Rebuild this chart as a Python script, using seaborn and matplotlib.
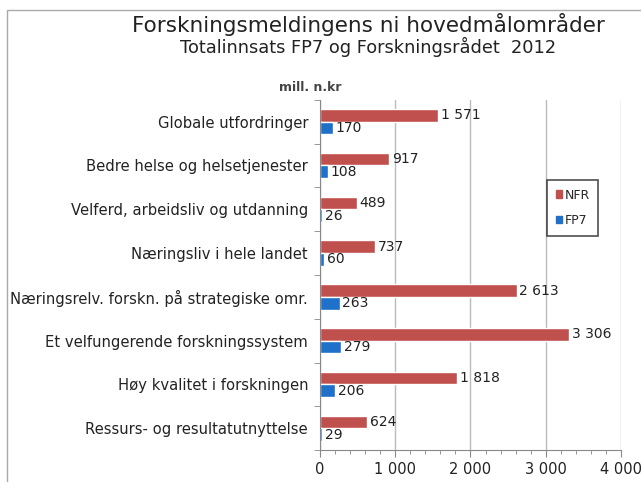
import matplotlib
matplotlib.use("Agg")
import matplotlib.pyplot as plt
import matplotlib.patches as mpatches
from matplotlib.ticker import MultipleLocator, FuncFormatter
import seaborn as sns
import pandas as pd

categories = [
    "Globale utfordringer",
    "Bedre helse og helsetjenester",
    "Velferd, arbeidsliv og utdanning",
    "Næringsliv i hele landet",
    "Næringsrelv. forskn. på strategiske omr.",
    "Et velfungerende forskningssystem",
    "Høy kvalitet i forskningen",
    "Ressurs- og resultatutnyttelse",
]
nfr = [1571, 917, 489, 737, 2613, 3306, 1818, 624]
fp7 = [170, 108, 26, 60, 263, 279, 206, 29]
series = ["NFR", "FP7"]
colors = ["#C0504D", "#1F70C8"]

df = pd.DataFrame({
    "kategori": categories * 2,
    "verdi": nfr + fp7,
    "serie": ["NFR"] * len(nfr) + ["FP7"] * len(fp7),
})

sns.set_style("white")
plt.rcParams["font.family"] = ["DejaVu Sans"]

fig = plt.figure(figsize=(6.41, 4.82), dpi=100)
ax = fig.add_axes([0.499, 0.066, 0.47, 0.727])

sns.barplot(data=df, y="kategori", x="verdi", hue="serie", order=categories,
            hue_order=series, palette=colors, width=0.58, orient="h",
            saturation=1, ax=ax, legend=False)


def fmt(v):
    return f"{int(v):,}".replace(",", " ")


for cont in ax.containers:
    ax.bar_label(cont, labels=[fmt(b.get_width()) for b in cont],
                 padding=2, fontsize=10, color="#222222")

ax.set_xlim(0, 4000)
ax.xaxis.set_major_locator(MultipleLocator(1000))
ax.xaxis.set_minor_locator(MultipleLocator(200))
ax.xaxis.set_major_formatter(FuncFormatter(lambda v, p: fmt(v)))
ax.grid(axis="x", which="major", color="#BBBBBB", linewidth=1)
ax.set_axisbelow(True)
for s in ["top", "right"]:
    ax.spines[s].set_visible(False)
ax.spines["left"].set_color("#888888")
ax.spines["bottom"].set_color("#888888")
ax.tick_params(axis="x", which="major", bottom=True, length=5, color="#888888",
               labelsize=10.5, direction="out", labelcolor="#222222")
ax.tick_params(axis="x", which="minor", bottom=True, length=3, color="#888888", direction="out")
ax.tick_params(axis="y", which="major", left=False, labelsize=10.6, pad=5,
               labelcolor="#222222")
ax.set_yticks([i + 0.5 for i in range(-1, len(categories))], minor=True)
ax.tick_params(axis="y", which="minor", left=True, length=4, color="#888888")
ax.set_ylim(len(categories) - 0.5, -0.5)
ax.set_xlabel("")
ax.set_ylabel("")

# legend
handles = [mpatches.Patch(color=c, label=s) for c, s in zip(colors, series)]
leg = fig.legend(handles=handles, loc="upper left", bbox_to_anchor=(0.853, 0.627),
                 frameon=True, fontsize=9, handlelength=0.55, handleheight=0.55,
                 handletextpad=0.15, labelspacing=1.0, borderpad=0.7,
                 borderaxespad=0, fancybox=False)
leg.get_frame().set_edgecolor("#222222")
leg.get_frame().set_linewidth(1.2)

fig.text(0.575, 0.95, "Forskningsmeldingens ni hovedmålområder", ha="center",
         va="center", fontsize=15.5, color="#222222")
fig.text(0.574, 0.902, "Totalinnsats FP7 og Forskningsrådet  2012", ha="center",
         va="center", fontsize=12.8, color="#222222")
fig.text(0.484, 0.818, "mill. n.kr", ha="center", va="center", fontsize=9,
         fontweight="bold", color="#444444")

# outer chart frame
fig.patches.append(mpatches.Rectangle((0.011, -0.05), 1.1, 1.03, transform=fig.transFigure,
                                      fill=False, edgecolor="#AAAAAA", linewidth=1))

fig.savefig("out.png", dpi=100)
